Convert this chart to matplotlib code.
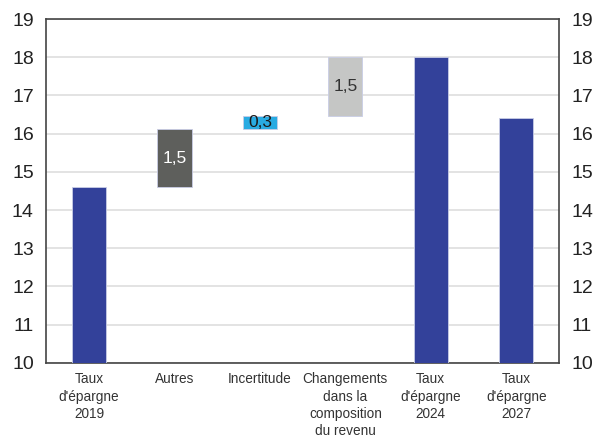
import matplotlib.pyplot as plt
import numpy as np

# categories
categories = ["Taux\nd'épargne\n2019", "Autres", "Incertitude",
              "Changements\ndans la\ncomposition\ndu revenu",
              "Taux\nd'épargne\n2024", "Taux\nd'épargne\n2027"]

# waterfall values
taux_2019 = 14.6
deltas = [1.52, 0.33, 1.55]
delta_labels = ["1,5", "0,3", "1,5"]
taux_2024 = 18.0
taux_2027 = 16.4

colors = ["#33419a", "#5e5f5c", "#29abe2", "#c5c6c5", "#33419a", "#33419a"]
label_colors = ["white", "#1a1a1a", "#333333"]

plt.rcParams['font.family'] = ['Liberation Sans', 'DejaVu Sans']

fig, ax = plt.subplots(figsize=(5.94, 4.44), dpi=100)
fig.subplots_adjust(left=0.078, right=0.941, top=0.957, bottom=0.183)

x = np.arange(len(categories))
ymin = 10

# build bottoms and heights from the values
bottoms = [ymin]
heights = [taux_2019 - ymin]
level = taux_2019
for d in deltas:
    bottoms.append(level)
    heights.append(d)
    level += d
bottoms += [ymin, ymin]
heights += [taux_2024 - ymin, taux_2027 - ymin]

ax.bar(x, heights, bottom=bottoms, width=0.4, color=colors,
       edgecolor="#c9cde6", linewidth=0.6, zorder=3)

# value labels on the floating bars
for i, d in enumerate(deltas):
    ax.text(x[i + 1], bottoms[i + 1] + d / 2, delta_labels[i],
            ha="center", va="center", fontsize=12.5,
            color=label_colors[i], zorder=4)

ax.set_ylim(10, 19)
ax.set_xlim(-0.5, len(categories) - 0.5)
ax.set_yticks(range(10, 20))
ax.yaxis.grid(True, color="#dedede", linewidth=1.2, zorder=0)
ax.set_axisbelow(True)

ax.tick_params(axis="y", length=0, labelsize=14, pad=9, colors="#222222",
               right=True, labelright=True)
ax.tick_params(axis="x", length=0, pad=7)
ax.set_xticks(x)
ax.set_xticklabels(categories, fontsize=9.8, color="#333333",
                   family=['Liberation Sans Narrow', 'Liberation Sans', 'DejaVu Sans'],
                   linespacing=1.3)

for side in ["left", "right", "top", "bottom"]:
    ax.spines[side].set_color("#444444")
    ax.spines[side].set_linewidth(1.2)

plt.savefig("out.png", dpi=100)
